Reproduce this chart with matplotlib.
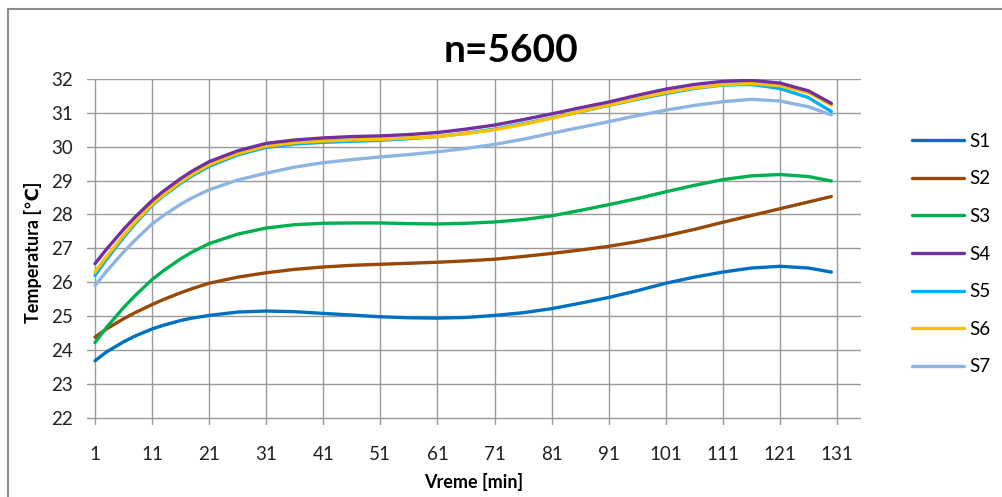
import numpy as np
import matplotlib
matplotlib.use("Agg")
from matplotlib import pyplot as plt
from matplotlib.patches import Rectangle

plt.rcParams['font.family'] = ['Lato', 'DejaVu Sans']

# time [min]
minutes = [1, 3, 6, 8, 11, 13, 16, 18, 21, 26, 31, 36, 41, 46, 51, 56, 61, 66, 71, 76, 81,
           86, 91, 96, 101, 106, 111, 116, 121, 126, 130]

s1 = [23.68, 23.94, 24.24, 24.41, 24.62, 24.73, 24.87, 24.94, 25.02, 25.12, 25.15, 25.13,
      25.08, 25.03, 24.98, 24.95, 24.94, 24.96, 25.02, 25.1, 25.22, 25.38, 25.55, 25.75,
      25.97, 26.15, 26.3, 26.42, 26.47, 26.42, 26.3]
s2 = [24.38, 24.62, 24.92, 25.1, 25.34, 25.49, 25.69, 25.81, 25.97, 26.15, 26.28, 26.38,
      26.45, 26.5, 26.53, 26.56, 26.59, 26.63, 26.68, 26.76, 26.85, 26.95, 27.06, 27.2,
      27.37, 27.56, 27.77, 27.97, 28.17, 28.37, 28.53]
s3 = [24.22, 24.66, 25.25, 25.6, 26.08, 26.34, 26.69, 26.89, 27.14, 27.42, 27.6, 27.7,
      27.74, 27.75, 27.75, 27.73, 27.72, 27.74, 27.78, 27.85, 27.96, 28.12, 28.29, 28.47,
      28.67, 28.86, 29.03, 29.14, 29.18, 29.12, 28.99]
s4 = [26.55, 26.97, 27.56, 27.92, 28.41, 28.69, 29.06, 29.28, 29.56, 29.88, 30.1, 30.2,
      30.26, 30.3, 30.32, 30.36, 30.42, 30.52, 30.64, 30.8, 30.97, 31.15, 31.32, 31.52,
      31.7, 31.84, 31.93, 31.96, 31.88, 31.65, 31.28]
s5 = [26.2, 26.67, 27.32, 27.72, 28.27, 28.55, 28.92, 29.14, 29.42, 29.76, 29.98, 30.08,
      30.13, 30.16, 30.19, 30.24, 30.3, 30.4, 30.52, 30.68, 30.85, 31.03, 31.22, 31.4,
      31.57, 31.72, 31.82, 31.84, 31.72, 31.45, 31.04]
s6 = [26.3, 26.75, 27.38, 27.77, 28.3, 28.58, 28.96, 29.18, 29.47, 29.8, 30.02, 30.12,
      30.17, 30.2, 30.22, 30.26, 30.3, 30.39, 30.5, 30.66, 30.84, 31.04, 31.23, 31.42,
      31.6, 31.74, 31.83, 31.87, 31.8, 31.6, 31.23]
s7 = [25.9, 26.32, 26.89, 27.24, 27.72, 27.97, 28.3, 28.49, 28.73, 29.02, 29.22, 29.4,
      29.53, 29.62, 29.7, 29.77, 29.85, 29.95, 30.07, 30.22, 30.4, 30.57, 30.74, 30.92,
      31.08, 31.22, 31.33, 31.4, 31.35, 31.18, 30.94]

series = [s1, s2, s3, s4, s5, s6, s7]
names = ["S1", "S2", "S3", "S4", "S5", "S6", "S7"]
colors = ["#0070C0", "#984807", "#00B050", "#7030A0", "#00B0F0", "#FFC000", "#8EB4E3"]
xticks = list(range(1, 132, 10))
yticks = list(range(22, 33))

fig = plt.figure(figsize=(10.03, 4.97), dpi=100)
ax = fig.add_axes([87 / 1003, 1 - 425 / 497, (861 - 87) / 1003, (425 - 79) / 497])

# draw order so that S4 sits on top like the original
order = [0, 1, 2, 6, 4, 5, 3]
lines = {}
for i in order:
    lines[i], = ax.plot(minutes, series[i], color=colors[i], lw=2.4, label=names[i],
                        solid_capstyle='round', solid_joinstyle='round')

ax.set_xlim(-0.4, 135.2)
ax.set_ylim(21.785, 32)
ax.set_xticks(xticks)
ax.set_yticks(yticks)
ax.grid(True, color="#9a9a9a", lw=1.0)
ax.set_axisbelow(True)
for sp in ax.spines.values():
    sp.set_visible(False)
ax.tick_params(axis='both', length=0, labelsize=13.5, colors="#222222")
ax.tick_params(axis='y', pad=10)
ax.tick_params(axis='x', pad=15)

fig.text(511 / 1003, 1 - 51 / 497, "n=5600", fontsize=28, fontweight='bold',
         ha='center', va='center')
ax.set_xlabel("Vreme [min]", fontsize=13, fontweight='bold', labelpad=7)
ax.set_ylabel("Temperatura [℃]", fontsize=13, fontweight='bold', labelpad=7)

handles = [lines[i] for i in range(7)]
fig.legend(handles, names, loc='center left', bbox_to_anchor=(912 / 1003, 1 - 254 / 497),
           frameon=False, fontsize=13.5, handlelength=2.75, handletextpad=0.3,
           labelspacing=1.1, borderpad=0, borderaxespad=0)

fig.patches.append(Rectangle((8 / 1003, -0.1), 1.2, 1 - 9 / 497 + 0.1,
                             transform=fig.transFigure, fill=False,
                             edgecolor="#8c8c8c", lw=1.5))

fig.savefig("out.png", dpi=100)
